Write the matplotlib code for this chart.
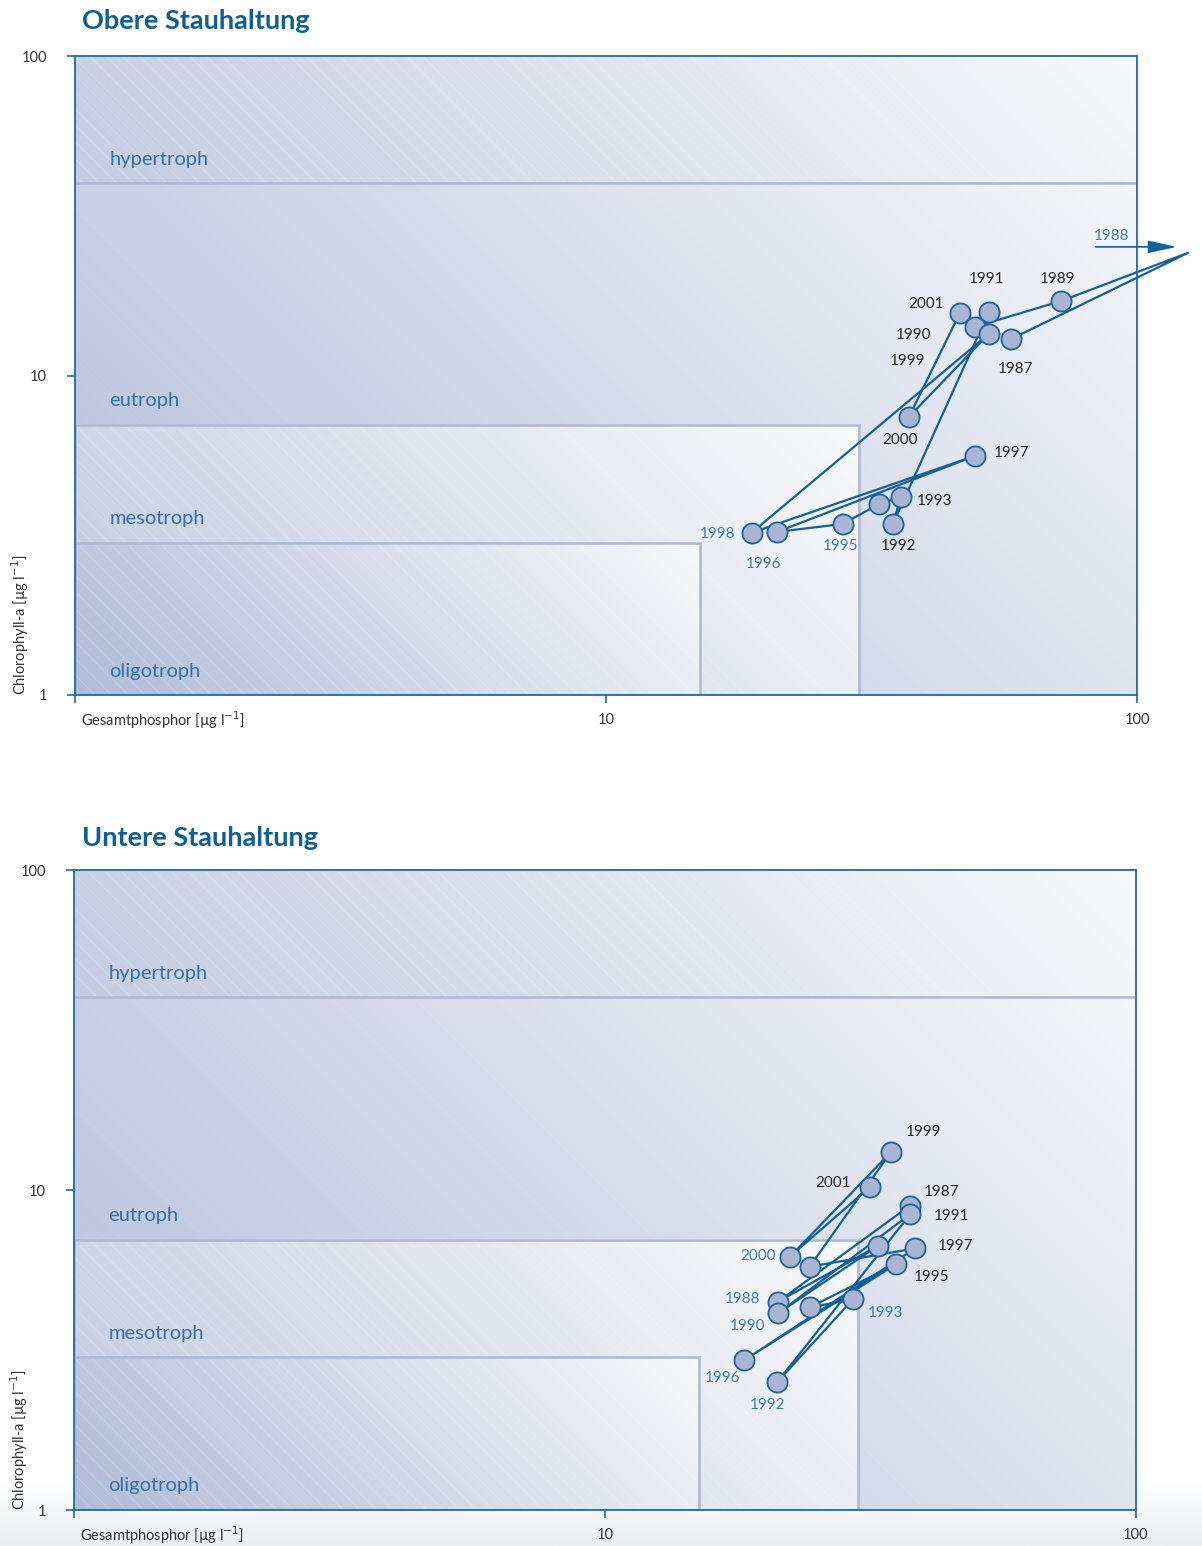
import numpy as np
import matplotlib.pyplot as plt
from matplotlib.colors import to_rgb
from matplotlib.patches import Rectangle
from matplotlib.ticker import NullLocator
from matplotlib.transforms import offset_copy

# Jahresmittel Gesamtphosphor / Chlorophyll-a [µg/l]
years = [1987, 1988, 1989, 1990, 1991, 1992, 1993, 1994,
         1995, 1996, 1997, 1998, 1999, 2000, 2001]

tp_obere = [57.9, 124.7, 71.9, 49.5, 52.6, 34.7, 35.9, 32.7,
            27.9, 21.0, 49.5, 18.8, 52.6, 37.2, 46.4]
chla_obere = [13.0, 24.2, 17.1, 14.2, 15.8, 3.43, 4.17, 3.96,
              3.43, 3.24, 5.60, 3.22, 13.5, 7.42, 15.7]

tp_untere = [37.5, 21.2, 32.6, 21.2, 37.6, 21.1, 29.3, 24.3,
             35.3, 18.3, 38.4, 24.3, 34.5, 22.3, 31.5]
chla_untere = [8.93, 4.48, 6.68, 4.12, 8.41, 2.51, 4.55, 4.30,
               5.86, 2.94, 6.57, 5.76, 13.1, 6.19, 10.2]

# Trophiegrenzen
tp_bounds = [15, 30]          # oligo | meso
chla_bounds = [3, 7, 40]      # oligo | meso | eu | hyper
zone_names = ["oligotroph", "mesotroph", "eutroph", "hypertroph"]
zone_floor = [1, 3, 7, 40]

axis_ticks = [1, 10, 100]

# Beschriftungsversatz der Jahreszahlen (Pixel, x rechts / y oben)
offs_obere = {1987: (5, -30), 1989: (-3, 22), 1990: (-61, -8), 1991: (-2, 33),
              1992: (6, -22), 1993: (34, -4), 1995: (-2, -22), 1996: (-14, -32),
              1997: (37, 3), 1998: (-34, -1), 1999: (-81, -27), 2000: (-9, -23),
              2001: (-34, 9)}
offs_untere = {1987: (32, 14), 1988: (-36, 3), 1990: (-31, -13), 1991: (41, -2),
               1992: (-10, -23), 1993: (33, -14), 1995: (36, -13), 1996: (-22, -18),
               1997: (40, 2), 1999: (33, 20), 2000: (-32, 1), 2001: (-37, 4)}

DARK = "#14609a"
FRAME = "#1f6aa5"
ZONE_LINE = "#aab8d5"
ZONE_TEXT = "#3072ab"
YEAR_BLUE = "#3d7fb6"
YEAR_DARK = "#262626"
TITLE = "#0f5e96"

plt.rcParams['font.family'] = ['Lato', 'DejaVu Sans']
plt.rcParams['hatch.linewidth'] = 0.7


def frac(v):
    # Achsen 1..100 logarithmisch
    return np.log10(v) / 2.0


def blend(c0, c1, t):
    c0, c1 = np.array(to_rgb(c0)), np.array(to_rgb(c1))
    return c0 * (1 - t[..., None]) + c1 * t[..., None]


def gradient(ax, x0, x1, y0, y1, c0, c1, w_px, h_px, z=0.2):
    a0, a1, b0, b1 = frac(x0), frac(x1), frac(y0), frac(y1)
    u = np.linspace(0, 1, 200)[None, :]
    v = np.linspace(0, 1, 200)[:, None]
    wx = (a1 - a0) * w_px
    wy = (b1 - b0) * h_px
    t = (u * wx + v * wy) / (wx + wy)
    ax.imshow(blend(c0, c1, t), extent=[a0, a1, b0, b1], transform=ax.transAxes,
              origin='lower', aspect='auto', interpolation='bilinear', zorder=z)


def hatch(ax, x0, x1, y0, y1, alpha, z=0.6):
    ax.add_patch(Rectangle((x0, y0), x1 - x0, y1 - y0, facecolor='none',
                           edgecolor=(1, 1, 1, alpha), lw=0, hatch='\\\\', zorder=z))


def panel(ax, tp, chla, offs, w_px, h_px):
    ax.set_xscale('log')
    ax.set_yscale('log')

    # Flächen der Trophiestufen
    gradient(ax, 1, 100, 1, 100, "#b3bed9", "#f9fafc", w_px, h_px, z=0.1)
    gradient(ax, 1, 100, chla_bounds[2], 100, "#c4cce0", "#f8f9fb", w_px, h_px, z=0.2)
    gradient(ax, 1, tp_bounds[1], 1, chla_bounds[1], "#c0c9de", "#f9fafc", w_px, h_px, z=0.3)
    gradient(ax, 1, tp_bounds[0], 1, chla_bounds[0], "#b0bbd7", "#f8f9fb", w_px, h_px, z=0.4)
    hatch(ax, 1, 100, 1, 100, 0.07)
    hatch(ax, 1, 100, chla_bounds[2], 100, 0.16)
    hatch(ax, 1, tp_bounds[1], 1, chla_bounds[1], 0.16)

    ax.axhline(chla_bounds[2], color=ZONE_LINE, lw=1.8, zorder=1)
    for xb, yb in zip(tp_bounds, chla_bounds[:2]):
        ax.add_patch(Rectangle((1, 1), xb - 1, yb - 1, facecolor='none',
                               edgecolor=ZONE_LINE, lw=1.8, zorder=1))

    for name, y0 in zip(zone_names, zone_floor):
        ax.annotate(name, (1.16, y0), xytext=(0, 24), textcoords='offset pixels',
                    ha='left', va='center', fontsize=14.5, color=ZONE_TEXT, zorder=5)

    # Jahresverlauf
    ax.plot(tp, chla, color=DARK, lw=1.6, clip_on=False, zorder=3)
    tp_a, chla_a = np.array(tp), np.array(chla)
    inside = (tp_a <= 100) & (chla_a <= 100)
    ax.plot(tp_a[inside], chla_a[inside], 'o', ms=14.5, mfc="#a9b5d3",
            mec="#1d639c", mew=1.3, zorder=4)

    for yr, x, y in zip(years, tp, chla):
        if yr not in offs:
            continue
        col = YEAR_BLUE if (x < tp_bounds[1] and y < chla_bounds[1]) else YEAR_DARK
        ax.annotate(str(yr), (x, y), xytext=offs[yr], textcoords='offset pixels',
                    ha='center', va='center', fontsize=11, color=col, zorder=5)

    ax.set_xlim(1, 100)
    ax.set_ylim(1, 100)
    ax.set_xticks(axis_ticks)
    ax.set_xticklabels(["", "10", "100"])
    ax.set_yticks(axis_ticks)
    ax.set_yticklabels(["1", "10", "100"])
    ax.xaxis.set_minor_locator(NullLocator())
    ax.yaxis.set_minor_locator(NullLocator())
    ax.tick_params(axis='both', direction='out', length=6, width=1.2, color=FRAME,
                   labelsize=10.5, labelcolor="#333333")
    ax.tick_params(axis='x', pad=7)
    ax.tick_params(axis='y', pad=14)
    for sp in ax.spines.values():
        sp.set_color(FRAME)
        sp.set_linewidth(1.3)
        sp.set_zorder(6)

    ax.text(0.006, -0.039, "Gesamtphosphor [µg l$^{-1}$]", transform=ax.transAxes,
            ha='left', va='center', fontsize=10.5, color="#333333")
    ax.text(-0.052, 0.0, "Chlorophyll-a [µg l$^{-1}$]", transform=ax.transAxes,
            rotation=90, ha='center', va='bottom', fontsize=10.5, color="#333333")


W, H = 1202, 1546
fig = plt.figure(figsize=(W / 100, H / 100), dpi=100)

# heller Grauschleier am unteren Blattrand, nach oben auslaufend
bg = fig.add_axes([0, 0, 1, 70 / H], zorder=-5)
shade = np.linspace(1, 0, 50)[:, None] * np.ones((1, 10))
bg.imshow(blend("#ffffff", "#eceef2", shade), origin='lower', aspect='auto',
          extent=[0, 1, 0, 1])
bg.set_xlim(0, 1)
bg.set_ylim(0, 1)
bg.set_axis_off()

ax1 = fig.add_axes([75 / W, 1 - 695 / H, 1062 / W, 639 / H])
panel(ax1, tp_obere, chla_obere, offs_obere, 1062, 639)
fig.text(82 / W, 1 - 21 / H, "Obere Stauhaltung", fontsize=19.5, fontweight='bold',
         color=TITLE, va='center', ha='left')

# 1988 liegt ausserhalb der Skala: Pfeil mit Jahreszahl
i88 = years.index(1988)
p88 = (tp_obere[i88], chla_obere[i88])
tip = offset_copy(ax1.transData, fig, x=-11, y=6, units='dots')
tail = offset_copy(ax1.transData, fig, x=-92, y=6, units='dots')
ax1.annotate("", xy=p88, xycoords=tip, xytext=p88, textcoords=tail,
             arrowprops=dict(arrowstyle='-|>,head_length=1.6,head_width=0.35',
                             color=DARK, lw=1.2, mutation_scale=11,
                             shrinkA=0, shrinkB=0),
             annotation_clip=False, zorder=5)
ax1.annotate("1988", p88, xytext=(-76, 17), textcoords='offset pixels',
             ha='center', va='center', fontsize=11, color=YEAR_BLUE,
             annotation_clip=False, zorder=5)

ax2 = fig.add_axes([74 / W, 1 - 1510 / H, 1062 / W, 640 / H])
panel(ax2, tp_untere, chla_untere, offs_untere, 1062, 640)
fig.text(82 / W, 1 - 838 / H, "Untere Stauhaltung", fontsize=19.5, fontweight='bold',
         color=TITLE, va='center', ha='left')

fig.savefig("out.png", dpi=100)
